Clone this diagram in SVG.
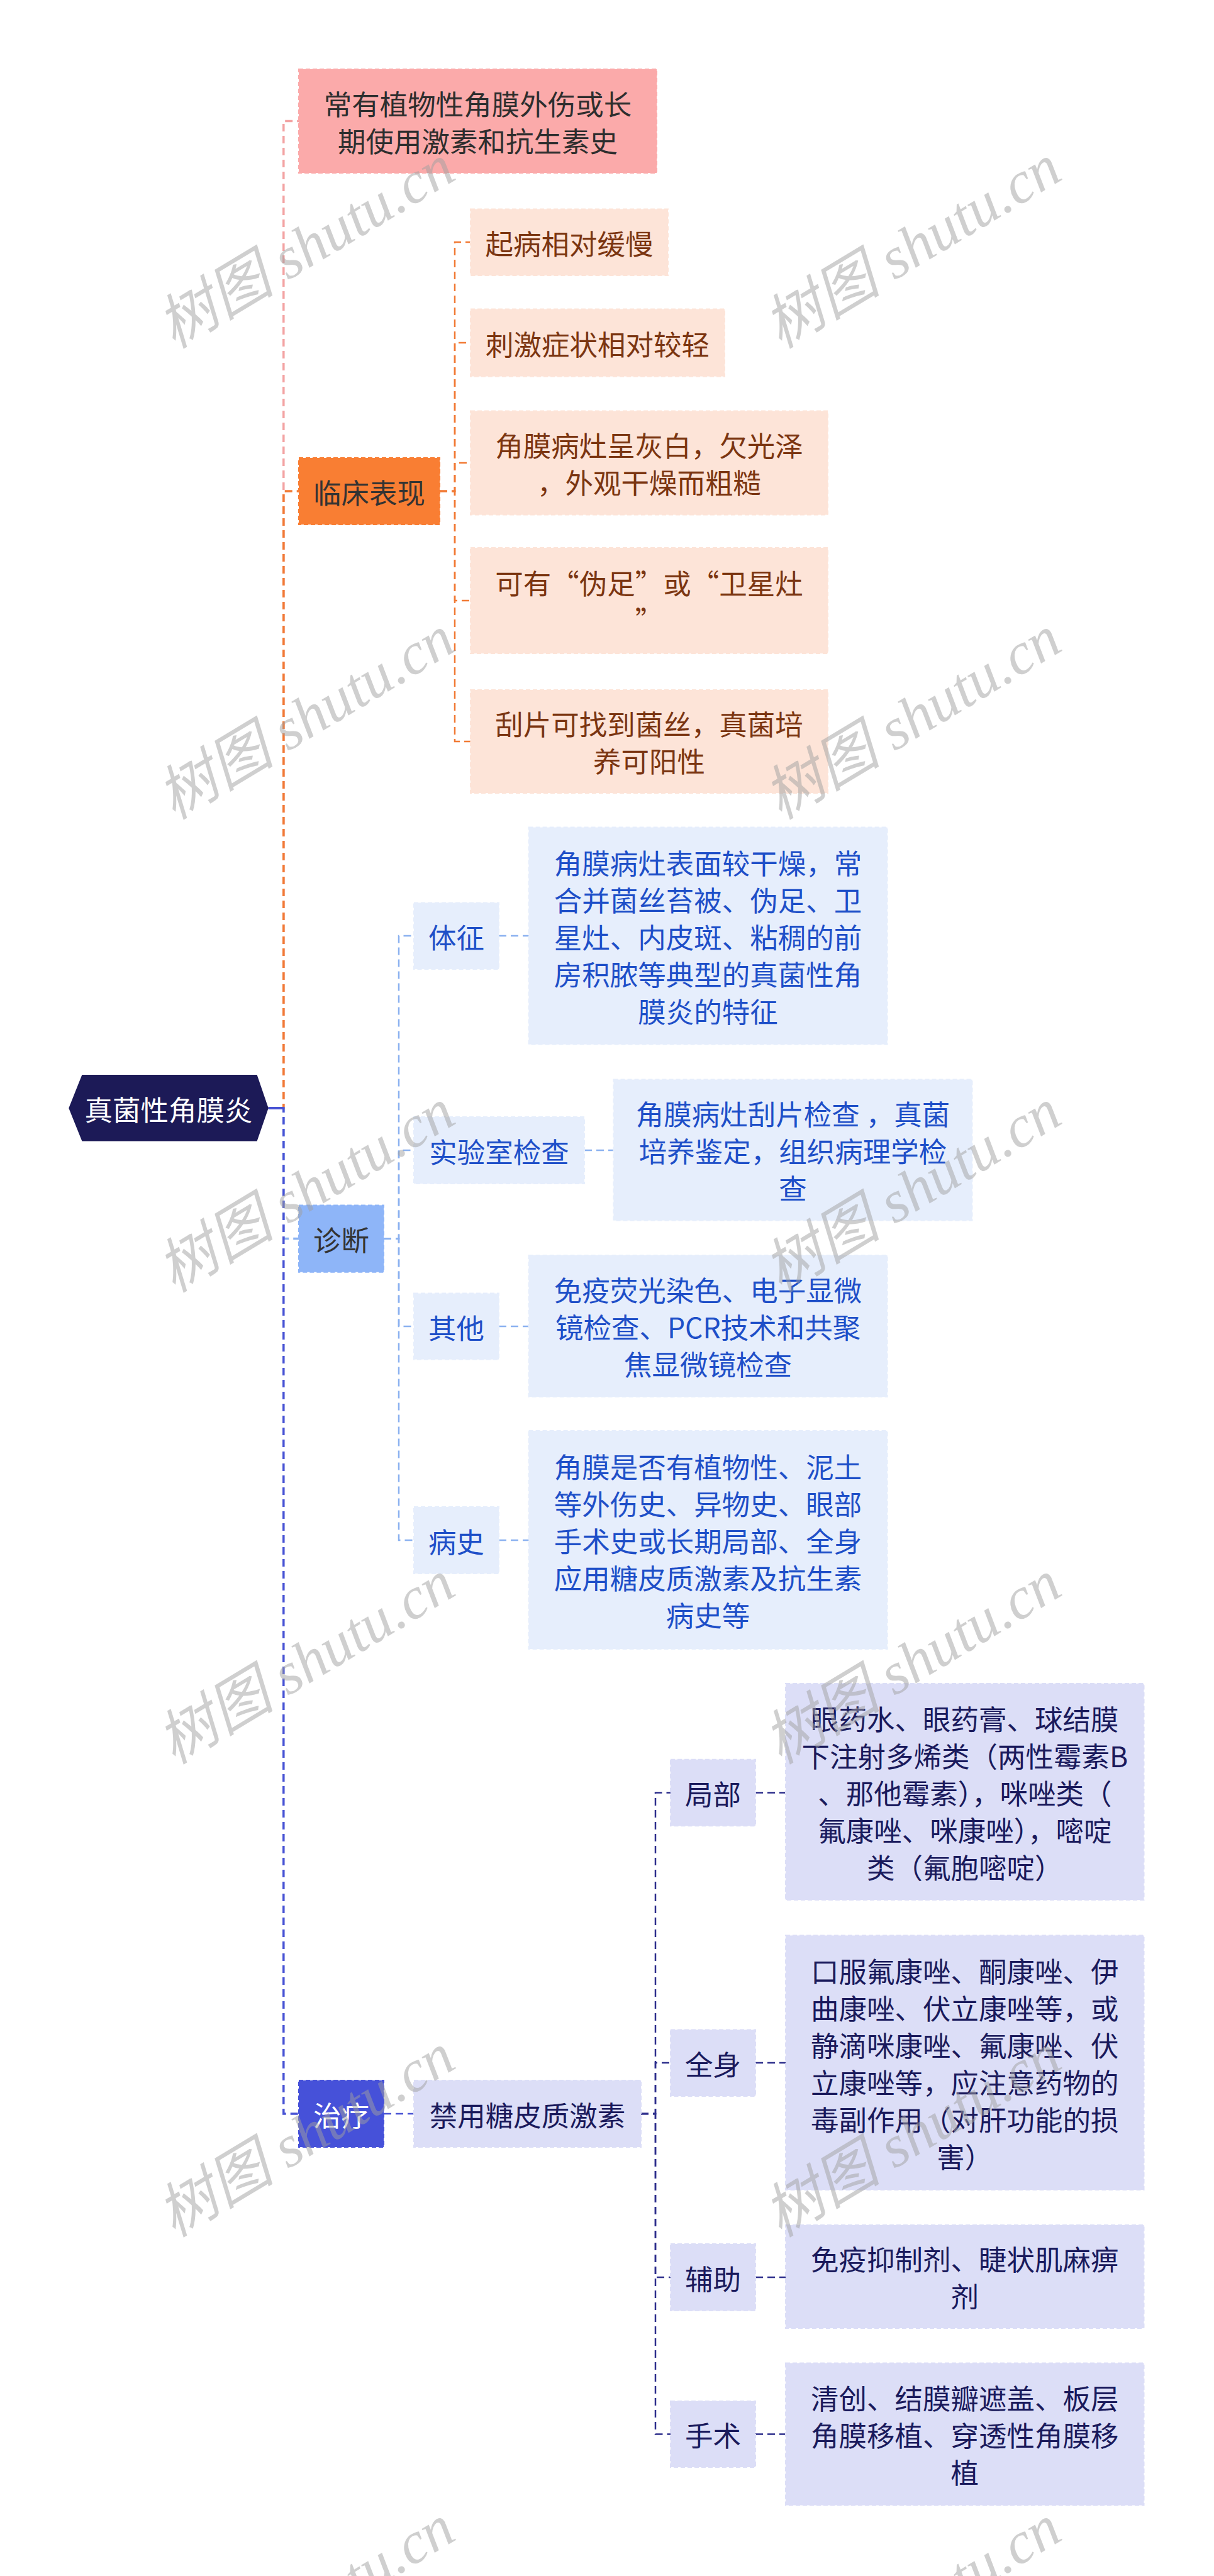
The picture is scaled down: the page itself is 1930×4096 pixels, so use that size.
<svg xmlns="http://www.w3.org/2000/svg" width="1930" height="4096" viewBox="0 0 1930 4096">
<style>
text{font-family:'Noto Sans CJK SC','Noto Sans',sans-serif;font-size:44.5px;text-anchor:middle;dominant-baseline:central}
rect.b{stroke-width:2;stroke-dasharray:7 4}
.c path{fill:none}
.t0 path{stroke-width:3.5;stroke-dasharray:12 7}
.t1 path{stroke-width:2.5;stroke-dasharray:12 7}
.pk{stroke:#F3A3A3}.or{stroke:#F17A34}.lb{stroke:#8AB1F0}.ind{stroke:#4752D4}.nv{stroke:#2E2F8C}
.wm{font-family:'Liberation Serif','Noto Sans CJK SC',serif;font-style:italic;font-size:94px;fill:#a0a0a0;fill-opacity:0.5}
.f1 rect{fill:#FDE4D8;stroke:#FDE4D8}.f1 text{fill:#7B3511}
.f2 rect{fill:#E6EEFC;stroke:#E6EEFC}.f2 text{fill:#1E4FC8}
.f3 rect{fill:#DCDEF7;stroke:#DCDEF7}.f3 text{fill:#1A1A5C}
</style>
<rect width="1930" height="4096" fill="#ffffff"/>
<g class="c" id="connectors">
<g class="t0">
<path class="pk" d="M426.7 1762 H450.8 V192.5 H475"/>
<path class="or" d="M426.7 1762 H450.8 V781 H475"/>
<path class="lb" d="M426.7 1762 H450.8 V1969.5 H475"/>
<path class="ind" d="M426.7 1762 H450.8 V3361 H475"/>
</g>
<path d="M426.7 1762 H450.8" stroke="#4752D4" stroke-width="4" fill="none"/>
<g class="t1">
<path class="or" d="M699 781 H723 V385 H748"/>
<path class="or" d="M699 781 H723 V545 H748"/>
<path class="or" d="M699 781 H723 V736 H748"/>
<path class="or" d="M699 781 H723 V955 H748"/>
<path class="or" d="M699 781 H723 V1179 H748"/>
<path class="lb" d="M610 1969.5 H634 V1488 H658"/>
<path class="lb" d="M610 1969.5 H634 V1829 H658"/>
<path class="lb" d="M610 1969.5 H634 V2109 H658"/>
<path class="lb" d="M610 1969.5 H634 V2449 H658"/>
<path class="lb" d="M793 1488 H840.6"/>
<path class="lb" d="M929 1829 H975.5"/>
<path class="lb" d="M793 2109 H840.6"/>
<path class="lb" d="M793 2449 H840.6"/>
<path class="ind" d="M610 3361 H658"/>
<path class="nv" d="M1019 3361 H1042 V2850.5 H1066"/>
<path class="nv" d="M1019 3361 H1042 V3280 H1066"/>
<path class="nv" d="M1019 3361 H1042 V3621 H1066"/>
<path class="nv" d="M1019 3361 H1042 V3870.5 H1066"/>
<path class="nv" d="M1201 2850.5 H1249"/>
<path class="nv" d="M1201 3280 H1249"/>
<path class="nv" d="M1201 3621 H1249"/>
<path class="nv" d="M1201 3870.5 H1249"/>
</g>
</g>

<g id="root">
<polygon points="109.3,1762 130.4,1709 408.6,1709 426.7,1762 408.6,1814.6 130.4,1814.6" fill="#1C1A57"/>
<text x="268" y="1762" fill="#ffffff">真菌性角膜炎</text>
</g>

<g id="history-risk">
<rect class="b" x="475" y="110" width="569" height="165" fill="#FBAAAA" stroke="#FBAAAA"/>
<text x="759.5" y="163" fill="#2E2E2E">常有植物性角膜外伤或长</text>
<text x="759.5" y="222" fill="#2E2E2E">期使用激素和抗生素史</text>
</g>

<g id="clinical">
<rect class="b" x="475" y="728" width="224" height="106" fill="#F97E33" stroke="#F97E33"/>
<text x="587" y="781" fill="#333333">临床表现</text>
</g>
<g id="c1" class="f1"><rect class="b" x="748" y="332.5" width="314" height="105.5"/><text x="905" y="385">起病相对缓慢</text></g>
<g id="c2" class="f1"><rect class="b" x="748" y="491.5" width="404" height="107"/><text x="950" y="545">刺激症状相对较轻</text></g>
<g id="c3" class="f1"><rect class="b" x="748" y="653.6" width="568" height="165"/><text x="1032" y="706.5">角膜病灶呈灰白，欠光泽</text><text x="1032" y="765.5">，外观干燥而粗糙</text></g>
<g id="c4" class="f1"><rect class="b" x="748" y="871" width="568" height="168"/><text x="1032" y="925.5">可有“伪足”或“卫星灶</text><text x="1032" y="984.5">”</text></g>
<g id="c5" class="f1"><rect class="b" x="748" y="1097" width="568" height="164"/><text x="1032" y="1149.5">刮片可找到菌丝，真菌培</text><text x="1032" y="1208.5">养可阳性</text></g>

<g id="diagnosis">
<rect class="b" x="475" y="1916.4" width="135" height="106.3" fill="#8EB5F8" stroke="#8EB5F8"/>
<text x="542.5" y="1969.5" fill="#333333">诊断</text>
</g>
<g id="d1" class="f2"><rect class="b" x="658" y="1435.4" width="135" height="105.5"/><text x="725.5" y="1488">体征</text></g>
<g id="d1a" class="f2"><rect class="b" x="840.6" y="1315.6" width="570" height="345"/>
<text x="1125.6" y="1370">角膜病灶表面较干燥，常</text><text x="1125.6" y="1429">合并菌丝苔被、伪足、卫</text><text x="1125.6" y="1488">星灶、内皮斑、粘稠的前</text><text x="1125.6" y="1547">房积脓等典型的真菌性角</text><text x="1125.6" y="1606">膜炎的特征</text></g>
<g id="d2" class="f2"><rect class="b" x="658" y="1776" width="271" height="106"/><text x="793.5" y="1829">实验室检查</text></g>
<g id="d2a" class="f2"><rect class="b" x="975.5" y="1716.6" width="570" height="224"/>
<text x="1260.5" y="1769.6">角膜病灶刮片检查 ，真菌</text><text x="1260.5" y="1828.6">培养鉴定，组织病理学检</text><text x="1260.5" y="1887.6">查</text></g>
<g id="d3" class="f2"><rect class="b" x="658" y="2056.6" width="135" height="105"/><text x="725.5" y="2109">其他</text></g>
<g id="d3a" class="f2"><rect class="b" x="840.6" y="1996" width="570" height="225"/>
<text x="1125.6" y="2049.5">免疫荧光染色、电子显微</text><text x="1125.6" y="2108.5">镜检查、PCR技术和共聚</text><text x="1125.6" y="2167.5">焦显微镜检查</text></g>
<g id="d4" class="f2"><rect class="b" x="658" y="2396" width="135" height="106"/><text x="725.5" y="2449">病史</text></g>
<g id="d4a" class="f2"><rect class="b" x="840.6" y="2275" width="570" height="347"/>
<text x="1125.6" y="2330.5">角膜是否有植物性、泥土</text><text x="1125.6" y="2389.5">等外伤史、异物史、眼部</text><text x="1125.6" y="2448.5">手术史或长期局部、全身</text><text x="1125.6" y="2507.5">应用糖皮质激素及抗生素</text><text x="1125.6" y="2566.5">病史等</text></g>

<g id="treatment">
<rect class="b" x="475" y="3308" width="135" height="106" fill="#4651D9" stroke="#4651D9"/>
<text x="542.5" y="3361" fill="#ffffff">治疗</text>
</g>
<g id="t0" class="f3"><rect class="b" x="658" y="3308" width="361" height="106"/><text x="838.5" y="3361">禁用糖皮质激素</text></g>
<g id="t1" class="f3"><rect class="b" x="1066" y="2797.7" width="135" height="105.5"/><text x="1133.5" y="2850.5">局部</text></g>
<g id="t1a" class="f3"><rect class="b" x="1249" y="2677" width="569.5" height="344"/>
<text x="1533.8" y="2731">眼药水、眼药膏、球结膜</text><text x="1533.8" y="2790">下注射多烯类（两性霉素B</text><text x="1533.8" y="2849">、那他霉素），咪唑类（</text><text x="1533.8" y="2908">氟康唑、咪康唑），嘧啶</text><text x="1533.8" y="2967">类（氟胞嘧啶）</text></g>
<g id="t2" class="f3"><rect class="b" x="1066" y="3227.5" width="135" height="105.5"/><text x="1133.5" y="3280">全身</text></g>
<g id="t2a" class="f3"><rect class="b" x="1249" y="3077.5" width="569.5" height="404.5"/>
<text x="1533.8" y="3132.2">口服氟康唑、酮康唑、伊</text><text x="1533.8" y="3191.2">曲康唑、伏立康唑等，或</text><text x="1533.8" y="3250.2">静滴咪康唑、氟康唑、伏</text><text x="1533.8" y="3309.2">立康唑等，应注意药物的</text><text x="1533.8" y="3368.2">毒副作用（对肝功能的损</text><text x="1533.8" y="3427.2">害）</text></g>
<g id="t3" class="f3"><rect class="b" x="1066" y="3568" width="135" height="106"/><text x="1133.5" y="3621">辅助</text></g>
<g id="t3a" class="f3"><rect class="b" x="1249" y="3538" width="569.5" height="164"/>
<text x="1533.8" y="3590.5">免疫抑制剂、睫状肌麻痹</text><text x="1533.8" y="3649.5">剂</text></g>
<g id="t4" class="f3"><rect class="b" x="1066" y="3818" width="135" height="105"/><text x="1133.5" y="3870.5">手术</text></g>
<g id="t4a" class="f3"><rect class="b" x="1249" y="3757.5" width="569.5" height="226"/>
<text x="1533.8" y="3811.5">清创、结膜瓣遮盖、板层</text><text x="1533.8" y="3870.5">角膜移植、穿透性角膜移</text><text x="1533.8" y="3929.5">植</text></g>

<g id="watermarks">
<text class="wm" x="486" y="392" transform="rotate(-31 486 392)">树图 shutu.cn</text>
<text class="wm" x="1450" y="392" transform="rotate(-31 1450 392)">树图 shutu.cn</text>
<text class="wm" x="486" y="1141" transform="rotate(-31 486 1141)">树图 shutu.cn</text>
<text class="wm" x="1450" y="1141" transform="rotate(-31 1450 1141)">树图 shutu.cn</text>
<text class="wm" x="486" y="1893" transform="rotate(-31 486 1893)">树图 shutu.cn</text>
<text class="wm" x="1450" y="1893" transform="rotate(-31 1450 1893)">树图 shutu.cn</text>
<text class="wm" x="486" y="2643" transform="rotate(-31 486 2643)">树图 shutu.cn</text>
<text class="wm" x="1450" y="2643" transform="rotate(-31 1450 2643)">树图 shutu.cn</text>
<text class="wm" x="486" y="3395" transform="rotate(-31 486 3395)">树图 shutu.cn</text>
<text class="wm" x="1450" y="3395" transform="rotate(-31 1450 3395)">树图 shutu.cn</text>
<text class="wm" x="486" y="4145" transform="rotate(-31 486 4145)">树图 shutu.cn</text>
<text class="wm" x="1450" y="4145" transform="rotate(-31 1450 4145)">树图 shutu.cn</text>
</g>
</svg>
